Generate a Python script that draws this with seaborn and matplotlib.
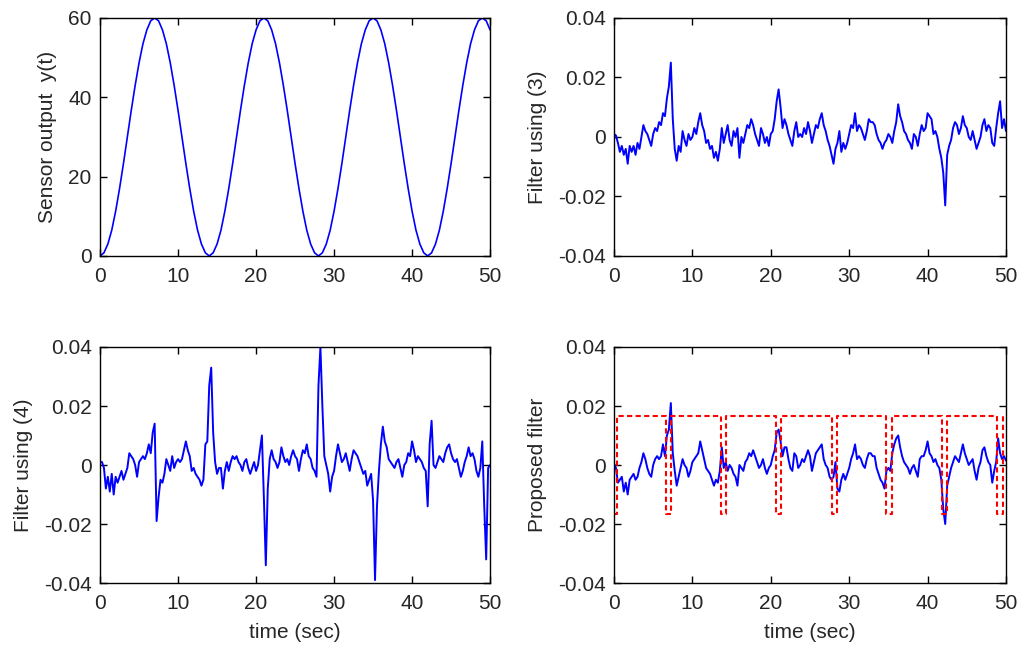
import numpy as np
import pandas as pd
import matplotlib
matplotlib.use("Agg")
import matplotlib.pyplot as plt
import seaborn as sns

# sensor output, sampled every 0.5 s
sensor_y = [0, 0.8, 3.0, 6.5, 11.3, 17.0, 23.3, 30.0, 36.7, 43.0, 48.7, 53.5, 57.0, 59.3,
            60.0, 59.3, 57.0, 53.5, 48.7, 43.0, 36.7, 30.0, 23.3, 17.0, 11.3, 6.5, 3.0, 0.8,
            0, 0.8, 3.0, 6.5, 11.3, 17.0, 23.3, 30.0, 36.7, 43.0, 48.7, 53.5, 57.0, 59.3,
            60.0, 59.3, 57.0, 53.5, 48.7, 43.0, 36.7, 30.0, 23.3, 17.0, 11.3, 6.5, 3.0, 0.8,
            0, 0.8, 3.0, 6.5, 11.3, 17.0, 23.3, 30.0, 36.7, 43.0, 48.7, 53.5, 57.0, 59.3,
            60.0, 59.3, 57.0, 53.5, 48.7, 43.0, 36.7, 30.0, 23.3, 17.0, 11.3, 6.5, 3.0, 0.8,
            0, 0.8, 3.0, 6.5, 11.3, 17.0, 23.3, 30.0, 36.7, 43.0, 48.7, 53.5, 57.0, 59.3,
            60.0, 59.3, 57.0]

# filter outputs (x 1e-3), sampled every 0.25 s, one row = 5 s
filter3 = [1, 0.5, -2, -5, -3, -6, -4, -9, -3, -5, -3, -6, -2, -4, 0, 4, 2, 1, -1, -3,
           1, 3, 2, 5, 4, 8, 7, 13, 17, 25, 6, -4, -8, -3, -5, 2, -1, -3, 1, -1,
           0, 3, 1, 5, 8, 4, 2, -2, -1, -4, -3, -7, -5, -8, -4, 3, -2, 1, 4, -1,
           -3, 2, 0, 3, -7, 0, -2, 1, 4, 3, 6, 4, 1, -1, -3, 3, 1, -2, 0, -3,
           1, 2, 6, 12, 16, 10, 3, 6, 4, 1, -1, -3, 2, 5, 0, 1, 0, 3, 1, 5,
           2, -2, 1, 4, 3, 6, 8, 4, 2, -1, -3, -6, -9, -4, -2, 2, -5, -2, -4, -2,
           1, 4, 3, 8, 2, 4, 3, 1, -1, 2, 6, 5, 5, 4, 1, -1, -2, -4, -2, -1,
           1, 0, -2, 2, 5, 11, 7, 5, 2, 1, -1, -2, -4, 1, 0, -3, 1, 4, 2, 3,
           8, 7, 6, 1, 2, 0, -4, -7, -12, -23, -6, -3, -1, 3, 5, 4, 1, 3, 7, 4,
           3, 0, -1, 2, -1, -4, -2, 0, 4, 6, 2, 4, 3, -2, -3, 3, 8, 12, 3, 6,
           2]

filter4 = [1, 1, -1, -8, -4, -9, -3, -10, -4, -6, -4, -2, -5, -3, -1, 4, 3, 2, 0, -4,
           1, 2, 3, 2, 4, 7, 4, 11, 14, -19, -11, -5, -6, -3, 2, 0, -2, 3, -1, 1,
           2, 1, 2, 5, 8, 5, 3, -2, -1, -3, -4, -5, -7, -5, 7, 8, 27, 33, 11, 1,
           -3, -1, -1, -8, -2, 1, -2, 1, 3, 2, 3, 1, 0, -2, 1, 2, -1, -3, -1, 1,
           -2, 0, 5, 10, -11, -34, -8, 2, 5, 2, 1, -1, 1, 6, 3, 1, 2, 0, 3, 5,
           3, 2, -2, 2, 5, 4, 7, 3, 2, -1, -2, -4, 27, 40, 20, 3, 0, -3, -9, -4,
           -2, 3, 7, 4, 1, 2, 4, 1, -2, 2, 5, 4, 3, 1, -1, -3, -2, -7, -5, -3,
           -12, -39, -14, -2, 7, 13, 8, 6, 2, 1, 0, -1, 1, 2, -1, -4, 0, 1, 4, 3,
           8, 5, 1, 3, 2, 1, -1, -2, -14, 7, 15, 0, -1, 1, 3, 2, 1, 4, 6, 7,
           4, 2, 1, 2, -1, -4, -2, 1, 3, 6, 3, 4, 2, -2, -4, -1, 8, -14, -32, -1,
           0]

proposed = [0.5, -1, -6, -5, -4, -9, -6, -10, -5, -4, -3, -5, -4, -1, 1, 4, 2, -1, -3, -4,
            0, 2, 3, 2, 3, 7, 3, 10, 12, 21, 4, -2, -7, -4, -1, 2, 0, -1, -4, -2,
            1, 2, 3, 4, 8, 5, 2, -1, -2, -3, -5, -7, -5, -6, -2, 6, -1, 1, -2, 0,
            -1, -3, -4, -7, 0, -1, -2, 1, 2, 4, 3, 5, 3, 1, -1, 0, 2, -1, -3, -1,
            0, 3, 5, 11, 12, 8, 3, 6, 6, 2, -1, -2, 4, 3, -1, 0, 2, 1, 3, 5,
            3, -2, 1, 4, 5, 6, 7, 2, 0, -1, -4, -5, -4, 1, -8, -9, -5, -3, -5, -3,
            -1, 2, 4, 7, 2, 3, 2, 0, -1, 2, 4, 4, 3, 3, -1, -3, -5, -6, -8, -2,
            -1, -2, 4, 7, 9, 10, 6, 3, 1, 0, -1, -3, -1, 0, -2, -4, 2, 3, 3, 5,
            8, 4, 3, 1, 2, 0, -1, -5, -15, -20, -7, -4, -1, 1, 3, 2, 1, 4, 7, 4,
            2, 0, 1, 2, -2, -5, -1, 1, 5, 6, 3, 1, 0, -6, -2, 1, 9, 4, 2, 3,
            1.5]

# switching threshold of the proposed filter (step signal)
thresh_t = [0, 0.35, 0.35, 6.6, 6.6, 7.3, 7.3, 13.6, 13.6, 14.35, 14.35, 20.7, 20.7,
            21.35, 21.35, 27.8, 27.8, 28.4, 28.4, 34.75, 34.75, 35.4, 35.4, 41.85,
            41.85, 42.45, 42.45, 48.9, 48.9, 49.6, 49.6, 50]
thresh_y = [-0.0167, -0.0167, 0.0167, 0.0167, -0.0167, -0.0167, 0.0167, 0.0167,
            -0.0167, -0.0167, 0.0167, 0.0167, -0.0167, -0.0167, 0.0167, 0.0167,
            -0.0167, -0.0167, 0.0167, 0.0167, -0.0167, -0.0167, 0.0167, 0.0167,
            -0.0167, -0.0167, 0.0167, 0.0167, -0.0167, -0.0167, 0.0167, 0.0167]

x_ticks = [0, 10, 20, 30, 40, 50]
sensor_ticks = [0, 20, 40, 60]
filt_ticks = [-0.04, -0.02, 0, 0.02, 0.04]
filt_labels = ['-0.04', '-0.02', '0', '0.02', '0.04']

t_sensor = np.arange(len(sensor_y)) * 0.5
t_filt = np.arange(len(filter3)) * 0.25

sns.set_theme(style='ticks', rc={
    'xtick.direction': 'in', 'ytick.direction': 'in',
    'xtick.top': True, 'ytick.right': True,
    'xtick.major.size': 5, 'ytick.major.size': 5,
    'axes.linewidth': 1.0, 'axes.edgecolor': 'black',
    'axes.unicode_minus': False,
})
plt.rcParams['font.family'] = ['Liberation Sans', 'DejaVu Sans']

fig = plt.figure(figsize=(10.24, 6.52), dpi=100)
ax_tl = fig.add_axes([0.0977, 0.6074, 0.3809, 0.3650])
ax_tr = fig.add_axes([0.5996, 0.6074, 0.3828, 0.3650])
ax_bl = fig.add_axes([0.0977, 0.1058, 0.3809, 0.3620])
ax_br = fig.add_axes([0.5996, 0.1058, 0.3828, 0.3620])

blue = '#0000ff'
lw = 1.4

sns.lineplot(x=t_sensor, y=sensor_y, ax=ax_tl, color=blue, linewidth=1.2,
             estimator=None, sort=False)
sns.lineplot(x=t_filt, y=np.array(filter3) * 1e-3, ax=ax_tr, color=blue, linewidth=lw,
             estimator=None, sort=False)
sns.lineplot(x=t_filt, y=np.array(filter4) * 1e-3, ax=ax_bl, color=blue, linewidth=lw,
             estimator=None, sort=False)
sns.lineplot(x=t_filt, y=np.array(proposed) * 1e-3, ax=ax_br, color=blue, linewidth=lw,
             estimator=None, sort=False)
sns.lineplot(x=thresh_t, y=thresh_y, ax=ax_br, color='#ff0000', linewidth=1.5,
             linestyle=(0, (2.5, 1.6)), estimator=None, sort=False)

for ax in [ax_tl, ax_tr, ax_bl, ax_br]:
    ax.set_xlim(0, 50)
    ax.set_xticks(x_ticks)
    ax.set_xticklabels([str(v) for v in x_ticks])
    ax.tick_params(labelsize=15, width=1.0, color='black')
    ax.tick_params(axis='x', pad=8)
    ax.tick_params(axis='y', pad=6)
    for s in ax.spines.values():
        s.set_visible(True)
        s.set_color('black')
    ax.set_xlabel('')
    ax.set_ylabel('')

ax_tl.set_ylim(0, 60)
ax_tl.set_yticks(sensor_ticks)
ax_tl.set_yticklabels([str(v) for v in sensor_ticks])
ax_tl.set_ylabel('Sensor output  y(t)', fontsize=15, labelpad=8)

for ax in [ax_tr, ax_bl, ax_br]:
    ax.set_ylim(-0.04, 0.04)
    ax.set_yticks(filt_ticks)
    ax.set_yticklabels(filt_labels)

ax_tr.set_ylabel('Filter using (3)', fontsize=15, labelpad=8)
ax_bl.set_ylabel('Filter using (4)', fontsize=15, labelpad=8)
ax_br.set_ylabel('Proposed filter', fontsize=15, labelpad=8)
ax_bl.set_xlabel('time (sec)', fontsize=15, labelpad=7)
ax_br.set_xlabel('time (sec)', fontsize=15, labelpad=7)

fig.savefig('out.png', dpi=100, facecolor='white')
